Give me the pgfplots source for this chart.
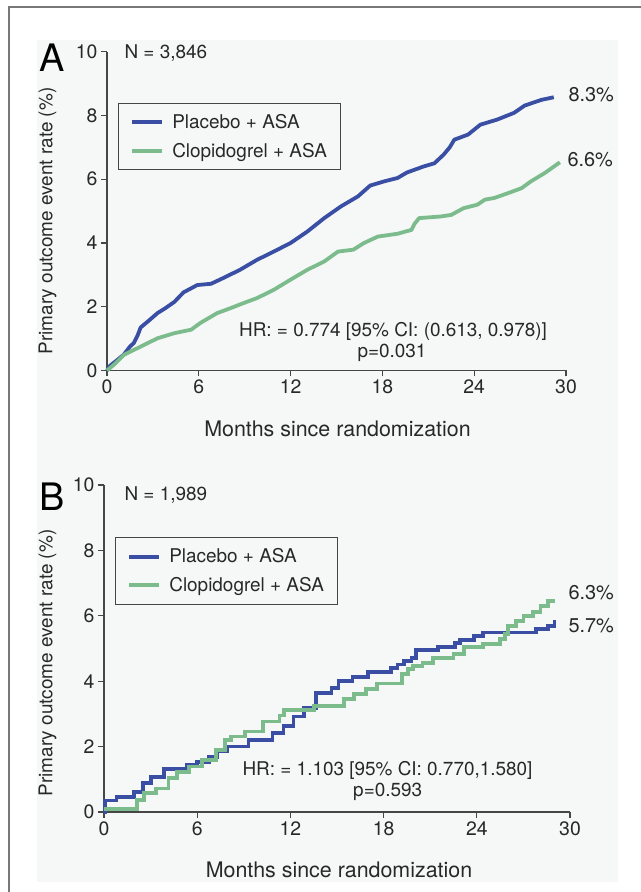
\documentclass[border=0pt]{standalone}
\usepackage{fontspec}
\setmainfont{TeX Gyre Heros}
\usepackage{pgfplots}
\pgfplotsset{compat=1.18}
\definecolor{kmblue}{RGB}{58,79,164}
\definecolor{kmgreen}{RGB}{124,188,140}
\definecolor{txt}{RGB}{40,40,40}
\definecolor{axgray}{RGB}{70,70,70}
\definecolor{bgc}{RGB}{246,248,248}
\definecolor{framec}{RGB}{120,120,120}
\newcommand{\fs}[1]{\fontsize{#1}{#1}\selectfont}
\pgfplotsset{kmaxis/.style={
  scale only axis, axis lines=left, axis line style={-, axgray, line width=1.1bp},
  xmin=0,xmax=30,ymin=0,ymax=10, enlargelimits=false,
  xtick={0,6,...,30}, ytick={0,2,...,10},
  tick align=outside, major tick length=6bp, tick style={axgray, line width=1.1bp},
  tick label style={font=\fs{19.5}, text=txt},
  /pgf/number format/assume math mode=true,
  legend cell align=left,
  legend style={draw=axgray, line width=1bp, fill=bgc, font=\fs{19}, text=txt, anchor=north west,
    inner xsep=12bp, inner ysep=9bp, row sep=9bp, column sep=6bp},
  legend image code/.code={\draw[##1] (0bp,0bp) -- (30bp,0bp);},
  clip=false,
}}
\begin{document}
\begin{tikzpicture}[x=1bp,y=1bp]
\path[use as bounding box] (0,0) rectangle (641,892);
\fill[white] (0,0) rectangle (641,892);
\fill[bgc] (37,10) rectangle (618,852);
\draw[framec, line width=1.3bp] (9,0) -- (9,885) -- (641,885);

\begin{axis}[kmaxis, at={(107bp,521.5bp)}, anchor=south west, width=459bp, height=318.8bp,
  legend style={at={(axis description cs:0.024,0.839)}}]
\addplot[kmblue, line width=3.8bp, line join=round] coordinates {
(0,0) (0.2,0.15) (0.6,0.3) (1.1,0.5) (1.5,0.75) (1.75,0.86) (2.0,1.1) (2.2,1.35) (2.7,1.55) (3.3,1.8) (3.8,1.95) (4.4,2.15) (5.0,2.45) (5.9,2.68) (6.8,2.72) (7.6,2.9) (8.7,3.16) (9.8,3.47) (10.9,3.73) (12.0,4.0) (13.1,4.36) (14.2,4.78) (15.3,5.15) (16.4,5.46) (17.2,5.8) (18.1,5.93) (19.0,6.04) (19.6,6.21) (20.7,6.40) (21.4,6.5) (22.0,6.77) (22.4,7.0) (22.7,7.24) (23.6,7.40) (24.4,7.71) (25.5,7.87) (26.6,8.08) (27.3,8.31) (28.4,8.49) (29.2,8.57)
};
\addlegendentry{Placebo + ASA}
\addplot[kmgreen, line width=3.8bp, line join=round] coordinates {
(0,0) (0.5,0.2) (1.1,0.49) (2.2,0.75) (3.3,1.01) (4.4,1.17) (5.5,1.28) (6.1,1.49) (7.2,1.80) (8.1,1.96) (8.9,2.11) (9.8,2.27) (10.9,2.53) (12.0,2.85) (13.1,3.16) (14.2,3.42) (15.1,3.73) (16.1,3.79) (16.8,4.0) (17.7,4.2) (19.0,4.29) (19.9,4.41) (20.1,4.6) (20.4,4.78) (21.8,4.83) (22.5,4.88) (23.3,5.09) (24.2,5.20) (24.7,5.36) (25.3,5.41) (26.2,5.56) (27.1,5.72) (27.7,5.93) (28.6,6.19) (29.6,6.53)
};
\addlegendentry{Clopidogrel + ASA}
\end{axis}

\begin{axis}[kmaxis, at={(104bp,80bp)}, anchor=south west, width=466bp, height=327bp,
  legend style={at={(axis description cs:0.0237,0.84)}}]
\addplot[kmblue, line width=3.8bp, const plot] coordinates {
(0,0) (0.05,0.35) (0.8,0.45) (1.95,0.62) (2.5,0.88) (3.05,1.08) (3.85,1.32) (5.35,1.44) (6.0,1.54) (6.75,1.69) (7.3,1.85) (7.9,2.0) (9.3,2.21) (10.85,2.41) (11.55,2.62) (12.2,2.92) (12.85,3.18) (13.65,3.64) (14.65,3.80) (15.1,4.0) (16.0,4.12) (17.0,4.28) (18.5,4.41) (18.9,4.51) (19.3,4.61) (19.8,4.71) (20.1,4.95) (21.5,5.05) (22.6,5.17) (22.9,5.27) (23.8,5.37) (24.4,5.49) (27.8,5.60) (28.6,5.69) (29.0,5.81) (29.1,5.81)
};
\addlegendentry{Placebo + ASA}
\addplot[kmgreen, line width=3.8bp, const plot] coordinates {
(0,0.1) (2.1,0.37) (2.55,0.57) (3.35,0.72) (4.15,1.03) (4.7,1.23) (5.45,1.39) (6.3,1.59) (7.2,1.9) (7.8,2.21) (8.2,2.31) (9.1,2.46) (10.25,2.77) (11.3,2.95) (11.6,3.13) (13.5,3.23) (15.45,3.46) (16.1,3.6) (16.85,3.76) (17.6,3.93) (19.2,4.22) (19.55,4.37) (19.9,4.47) (20.5,4.55) (21.2,4.70) (22.5,4.84) (23.2,5.04) (24.4,5.14) (25.5,5.29) (25.8,5.44) (26.0,5.70) (26.5,5.85) (27.0,6.0) (27.6,6.12) (28.1,6.3) (28.6,6.46) (28.9,6.5)
};
\addlegendentry{Clopidogrel + ASA}
\end{axis}

\begin{scope}[text=txt]
\node[font=\fs{38}, text=black] at (52.5,834.5) {A};
\node[font=\fs{38}, text=black] at (52.5,395) {B};
\node[anchor=west, font=\fs{19}] at (121,839) {N = 3,846};
\node[anchor=west, font=\fs{19}] at (121,397) {N = 1,989};
\node[rotate=90, font=\fs{19}] at (47.5,671) {Primary outcome event rate (\%)};
\node[rotate=90, font=\fs{19}] at (47.5,229) {Primary outcome event rate (\%)};
\node[font=\fs{21.5}] at (337.5,463) {Months since randomization};
\node[font=\fs{21.5}] at (339,22) {Months since randomization};
\node[font=\fs{19}] at (393,560.3) {HR: = 0.774 [95\% CI: (0.613, 0.978)]};
\node[font=\fs{19}] at (392,539.3) {p=0.031};
\node[font=\fs{19}] at (387.5,122) {HR: = 1.103 [95\% CI: 0.770,1.580]};
\node[font=\fs{19}] at (387.7,100.3) {p=0.593};
\node[anchor=west, font=\fs{20}] at (565,797.5) {8.3\%};
\node[anchor=west, font=\fs{20}] at (564,732.5) {6.6\%};
\node[anchor=west, font=\fs{20}] at (565,299.5) {6.3\%};
\node[anchor=west, font=\fs{20}] at (565,266.5) {5.7\%};
\end{scope}
\end{tikzpicture}
\end{document}
